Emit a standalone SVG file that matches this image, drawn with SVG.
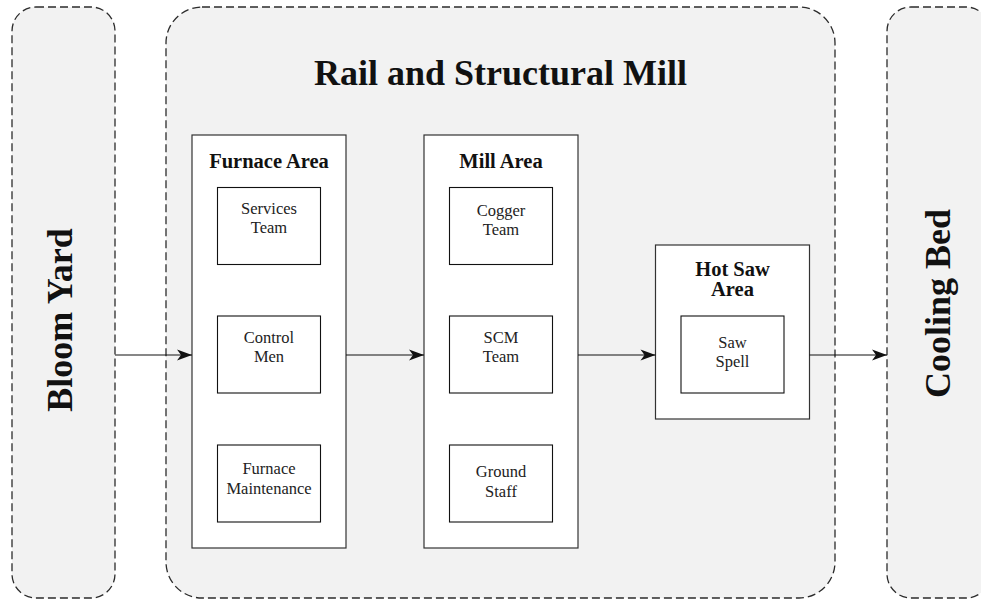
<svg xmlns="http://www.w3.org/2000/svg" width="981" height="600" viewBox="0 0 981 600">
<style>
.zone{fill:#f2f2f2;stroke:#2b2b2b;stroke-width:1.3;stroke-dasharray:8 4}
.area{fill:#ffffff;stroke:#333333;stroke-width:1.2}
.team{fill:#ffffff;stroke:#111111;stroke-width:1.1}
.big{font-family:"Liberation Serif","Times New Roman",serif;font-weight:bold;font-size:36px;fill:#111;text-anchor:middle}
.lab{font-family:"Liberation Serif","Times New Roman",serif;font-weight:bold;font-size:20.5px;fill:#111;text-anchor:middle}
.txt{font-family:"Liberation Serif","Times New Roman",serif;font-size:16.5px;fill:#222;text-anchor:middle}
.conn{stroke:#111;stroke-width:1.2;fill:none;marker-end:url(#arr)}
</style>
<defs>
<marker id="arr" markerUnits="userSpaceOnUse" markerWidth="17" markerHeight="13" viewBox="-16 -6.5 17 13" refX="0" refY="0" orient="auto">
<path d="M0,0 L-15,-5.5 L-11,0 L-15,5.5 Z" fill="#111"/>
</marker>
</defs>
<g id="bloom-yard">
<rect class="zone" x="12" y="7" width="103" height="591" rx="24" ry="24"/>
<text class="big" transform="translate(72,320) rotate(-90)">Bloom Yard</text>
</g>
<g id="rail-structural-mill">
<rect class="zone" x="166" y="7" width="669" height="591" rx="36" ry="36"/>
<text class="big" x="500.5" y="85">Rail and Structural Mill</text>
</g>
<g id="cooling-bed">
<rect class="zone" x="887" y="7" width="103" height="591" rx="24" ry="24"/>
<text class="big" transform="translate(950,303.5) rotate(-90)">Cooling Bed</text>
</g>
<g id="furnace-area">
<rect class="area" x="192" y="135" width="154" height="413"/>
<text class="lab" x="269" y="168">Furnace Area</text>
</g>
<g id="services-team">
<rect class="team" x="217.5" y="187.5" width="103" height="77"/>
<text class="txt" x="269" y="214">Services</text>
<text class="txt" x="269" y="233">Team</text>
</g>
<g id="control-men">
<rect class="team" x="217.5" y="316" width="103" height="77"/>
<text class="txt" x="269" y="343">Control</text>
<text class="txt" x="269" y="362">Men</text>
</g>
<g id="furnace-maintenance">
<rect class="team" x="217.5" y="445" width="103" height="77"/>
<text class="txt" x="269" y="474">Furnace</text>
<text class="txt" x="269" y="494">Maintenance</text>
</g>
<g id="mill-area">
<rect class="area" x="424" y="135" width="154" height="413"/>
<text class="lab" x="501" y="168">Mill Area</text>
</g>
<g id="cogger-team">
<rect class="team" x="449.5" y="187.5" width="103" height="77"/>
<text class="txt" x="501" y="216">Cogger</text>
<text class="txt" x="501" y="235">Team</text>
</g>
<g id="scm-team">
<rect class="team" x="449.5" y="316" width="103" height="77"/>
<text class="txt" x="501" y="343">SCM</text>
<text class="txt" x="501" y="362">Team</text>
</g>
<g id="ground-staff">
<rect class="team" x="449.5" y="445" width="103" height="77"/>
<text class="txt" x="501" y="477">Ground</text>
<text class="txt" x="501" y="497">Staff</text>
</g>
<g id="hot-saw-area">
<rect class="area" x="655.5" y="245" width="154" height="174"/>
<text class="lab" x="732.5" y="276">Hot Saw</text>
<text class="lab" x="732.5" y="296">Area</text>
</g>
<g id="saw-spell">
<rect class="team" x="681" y="316" width="103" height="77"/>
<text class="txt" x="732.5" y="348">Saw</text>
<text class="txt" x="732.5" y="367">Spell</text>
</g>
<g id="connectors">
<line class="conn" x1="115" y1="355" x2="192" y2="355"/>
<line class="conn" x1="346" y1="355" x2="424" y2="355"/>
<line class="conn" x1="578" y1="355" x2="655.5" y2="355"/>
<line class="conn" x1="809.5" y1="355" x2="887" y2="355"/>
</g>
</svg>
